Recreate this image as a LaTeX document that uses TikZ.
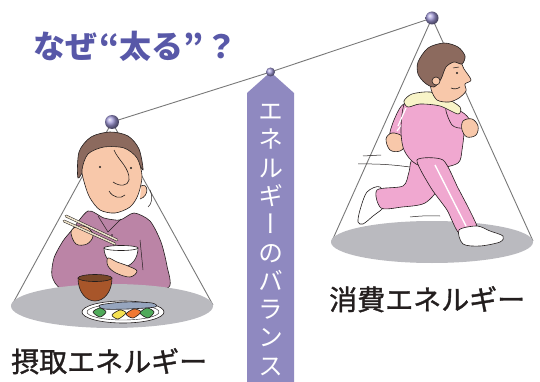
\documentclass[tikz,border=0pt]{standalone}
\usepackage{fontspec}
\newfontfamily\jp{Noto Sans CJK JP}[FakeBold=1.2]
\newfontfamily\jpbold{Noto Sans CJK JP}
\newfontfamily\jpv{Noto Sans CJK JP}[RawFeature=+vert]
\usetikzlibrary{shadings}
\definecolor{titleblue}{RGB}{88,88,168}
\definecolor{barpurple}{RGB}{143,137,192}
\definecolor{beamgray}{RGB}{120,120,120}
\definecolor{pangray}{RGB}{186,186,191}
\definecolor{ink}{RGB}{35,30,30}
\definecolor{skin}{RGB}{248,200,170}
\definecolor{hair}{RGB}{140,106,94}
\definecolor{shirt}{RGB}{187,132,166}
\definecolor{suit}{RGB}{240,168,208}
\definecolor{hood}{RGB}{248,244,200}
\definecolor{soup}{RGB}{168,86,42}
\definecolor{souptop}{RGB}{120,70,40}
\definecolor{fish}{RGB}{150,165,190}
\definecolor{leaf}{RGB}{80,170,90}
\definecolor{carrot}{RGB}{240,120,50}
\definecolor{lemon}{RGB}{245,225,80}
\definecolor{stick}{RGB}{235,225,200}
\definecolor{balllav}{RGB}{160,152,215}
\tikzset{
  outline/.style={draw=ink, line width=0.6pt, line join=round},
  cord/.style={draw=beamgray, line width=0.9pt},
  pan/.style={fill=pangray, draw=none},
  pivot/.style={circle, inner sep=0pt, shading=ball, ball color=balllav},
  label/.style={inner sep=0pt, text=ink, font=\jp\fontsize{28}{30}\selectfont},
}
\begin{document}
\begin{tikzpicture}[x=1pt,y=-1pt]
\useasboundingbox (0,0) rectangle (540,382);

% central post with the vertical caption
\fill[barpurple] (247,382) -- (247,93) -- (270.5,72) -- (294,93) -- (294,382) -- cycle;
\node[text=white, align=center, inner sep=0pt,
      font=\jpv\fontsize{25}{28.3}\selectfont] (caption) at (271,240)
  {エ\\ネ\\ル\\ギ\\ー\\の\\バ\\ラ\\ン\\ス};

% pivots
\coordinate (lp) at (112,122);
\coordinate (mp) at (270.5,72);
\coordinate (rp) at (432,18);

% beam and hanging cords
\draw[cord] (lp) -- (mp) -- (rp);
\coordinate (lpl) at (12,305);
\coordinate (lpr) at (213,305);
\coordinate (rpl) at (332,241);
\coordinate (rpr) at (533,241);
\draw[cord] (lpl) -- (lp) -- (lpr);
\draw[cord] (rpl) -- (rp) -- (rpr);

% ---------- right pan and runner ----------
\fill[pan] (432,242) ellipse [x radius=101, y radius=21];

% speed lines
\draw[ink, line width=0.5pt] (363,156) -- (381,155);
\draw[ink, line width=0.5pt] (358,164) to[bend left=4] (410,167);
\draw[ink, line width=0.5pt] (410,217) to[bend left=4] (440,216);

% back shoe
\draw[outline, fill=white] plot[smooth cycle, tension=0.5] coordinates
  {(358,222) (360,210) (367,192) (380,187) (385,205) (373,216) (363,224)};
% back leg
\draw[outline, fill=suit] plot[smooth cycle, tension=0.5] coordinates
  {(414,158) (444,163) (440,186) (425,203) (402,207) (381,208) (377,190) (403,186) (409,172)};
% back arm
\draw[outline, fill=suit] plot[smooth cycle, tension=0.5] coordinates
  {(404,104) (422,110) (414,128) (404,140) (390,137) (394,120)};
\draw[white, line width=1.2pt] (411,112) -- (397,131);
\draw[outline, fill=skin] plot[smooth cycle, tension=0.6] coordinates
  {(386,139) (392,133) (402,136) (406,144) (400,151) (390,150)};
% torso
\draw[outline, fill=suit] plot[smooth cycle, tension=0.5] coordinates
  {(406,101) (430,100) (456,107) (464,125) (462,150) (458,163) (438,168) (416,164) (404,150) (401,128)};
\draw[white, line width=1.2pt] (406,108) -- (398,126);
% front leg
\draw[outline, fill=suit] plot[smooth cycle, tension=0.4] coordinates
  {(417,160) (443,160) (458,188) (471,213) (477,229) (459,233) (447,210) (431,188)};
\draw[white, line width=1.4pt] (435,165) -- (466,226);
% front shoe
\draw[outline, fill=white] plot[smooth cycle, tension=0.5] coordinates
  {(459,230) (477,226) (490,231) (503,236) (500,242) (480,246) (463,244)};
% front arm and fist
\draw[outline, fill=suit] plot[smooth cycle, tension=0.5] coordinates
  {(446,108) (462,112) (470,121) (463,128) (452,125)};
\draw[outline, fill=skin] plot[smooth cycle, tension=0.6] coordinates
  {(463,121) (472,119) (478,126) (476,135) (467,137) (462,130)};
% hood
\draw[outline, fill=hood] plot[smooth cycle, tension=0.5] coordinates
  {(404,101) (412,94) (430,92) (446,98) (460,107) (458,114) (440,106) (420,104) (408,107)};
% face
\draw[outline, fill=skin] plot[smooth cycle, tension=0.5] coordinates
  {(438,56) (458,59) (464,69) (471,80) (465,84) (466,91) (459,98) (449,102) (437,100) (431,89) (430,72)};
% hair
\draw[outline, fill=hair] plot[smooth cycle, tension=0.5] coordinates
  {(418,62) (428,48) (444,43) (458,47) (465,56) (462,64) (454,62) (446,67) (441,79) (434,87) (425,83) (418,74)};
% ear
\draw[outline, fill=skin] (436,81) circle [radius=4];
% eye and mouth
\fill[ink] (457,73) circle [radius=1.1];
\draw[ink, line width=0.5pt] (453,68) -- (459,67);
\draw[ink, line width=0.6pt] (451,88) to[bend right=30] (460,87);

% ---------- left figure ----------
% hair
\draw[outline, fill=hair] plot[smooth cycle, tension=0.5] coordinates
  {(78,178) (79,152) (91,137) (110,132) (128,136) (139,149) (143,170) (136,160) (120,150) (96,152) (86,166)};
% shirt with raised arm
\draw[outline, fill=shirt] plot[smooth cycle, tension=0.45] coordinates
  {(88,211) (104,218) (120,220) (134,213) (150,221) (161,242) (167,266) (169,287) (140,292) (100,293) (62,289) (52,276) (54,258) (63,241) (72,230)};
\draw[ink, line width=0.5pt] (98,216) -- (108,232) -- (121,219);
\draw[ink, line width=0.5pt] (140,240) -- (143,270);
\fill[ink] (112,235) circle [radius=0.8];
% face
\draw[outline, fill=skin] plot[smooth cycle, tension=0.5] coordinates
  {(82,170) (88,154) (104,147) (124,148) (137,158) (142,176) (138,195) (130,207) (115,213) (100,210) (90,198) (85,185)};
\draw[outline, fill=skin] (141,186) .. controls (148,182) and (150,196) .. (140,199);
\draw[ink, line width=0.5pt] (150,190) .. controls (153,197) and (152,204) .. (148,207);
% nose, eyes, mouth
\draw[ink, line width=0.6pt] (114,150) .. controls (118,160) and (130,168) .. (129,180)
  .. controls (128,186) and (120,187) .. (113,182);
\fill[ink] (100,167) circle [radius=1.1];
\fill[ink] (131,168) circle [radius=1.1];
\draw[ink, line width=0.6pt] (109,191) .. controls (113,198) and (121,199) .. (125,195);
% chopstick hand
\draw[outline, fill=skin] plot[smooth cycle, tension=0.6] coordinates
  {(71,232) (78,226) (88,228) (93,236) (87,244) (76,244)};
\draw[ink, line width=2.6pt, line cap=round] (66,216) -- (117,240);
\draw[stick, line width=1.6pt, line cap=round] (66,216) -- (117,240);
\draw[ink, line width=2.6pt, line cap=round] (64,221) -- (115,244);
\draw[stick, line width=1.6pt, line cap=round] (64,221) -- (115,244);
% rice bowl and holding hand
\draw[outline, fill=white] (104,248) .. controls (104,258) and (112,267) .. (122,267)
  .. controls (132,267) and (138,258) .. (138,248) -- cycle;
\draw[outline, fill=white] (121,248) ellipse [x radius=17, y radius=2.5];
\draw[outline, fill=skin] plot[smooth cycle, tension=0.6] coordinates
  {(108,258) (117,262) (128,266) (137,271) (130,277) (116,273) (108,266)};

% table
\fill[pan] (112,306) ellipse [x radius=101, y radius=22];

% miso soup bowl
\draw[outline, fill=soup] (78,278) .. controls (78,292) and (86,301) .. (95,301)
  .. controls (104,301) and (112,292) .. (112,278) -- cycle;
\draw[outline, fill=souptop] (95,278) ellipse [x radius=17, y radius=3.5];
% plate with fish and vegetables
\draw[outline, fill=white] (123,312) ellipse [x radius=41, y radius=11];
\draw[ink, line width=0.4pt] (123,312) ellipse [x radius=36, y radius=8];
\draw[outline, fill=fish] plot[smooth cycle, tension=0.5] coordinates
  {(100,305) (125,302) (152,303) (155,307) (128,309) (104,309)};
\draw[outline, fill=leaf] plot[smooth cycle] coordinates {(93,312) (100,308) (106,312) (100,317)};
\draw[outline, fill=lemon] plot[smooth cycle] coordinates {(112,315) (120,310) (126,313) (118,319)};
\draw[outline, fill=carrot] plot[smooth cycle] coordinates {(126,314) (134,309) (141,312) (133,318)};
\draw[outline, fill=leaf] plot[smooth cycle] coordinates {(140,313) (147,308) (154,312) (148,318)};

% pivot balls
\node[pivot, minimum size=14pt] (lball) at (lp) {};
\node[pivot, minimum size=9pt] (mball) at (mp) {};
\node[pivot, minimum size=13pt] (rball) at (rp) {};

% headings
\node[anchor=base west, inner sep=0pt, text=titleblue,
      font=\jpbold\bfseries\fontsize{32}{34}\selectfont] (title) at (33,59)
  {なぜ\hspace{2pt}“太る”\hspace{2pt}？};
\node[label, anchor=base west] (intake) at (11,372) {摂取エネルギー};
\node[label, anchor=base west] (burn) at (329,310) {消費エネルギー};
\end{tikzpicture}
\end{document}
